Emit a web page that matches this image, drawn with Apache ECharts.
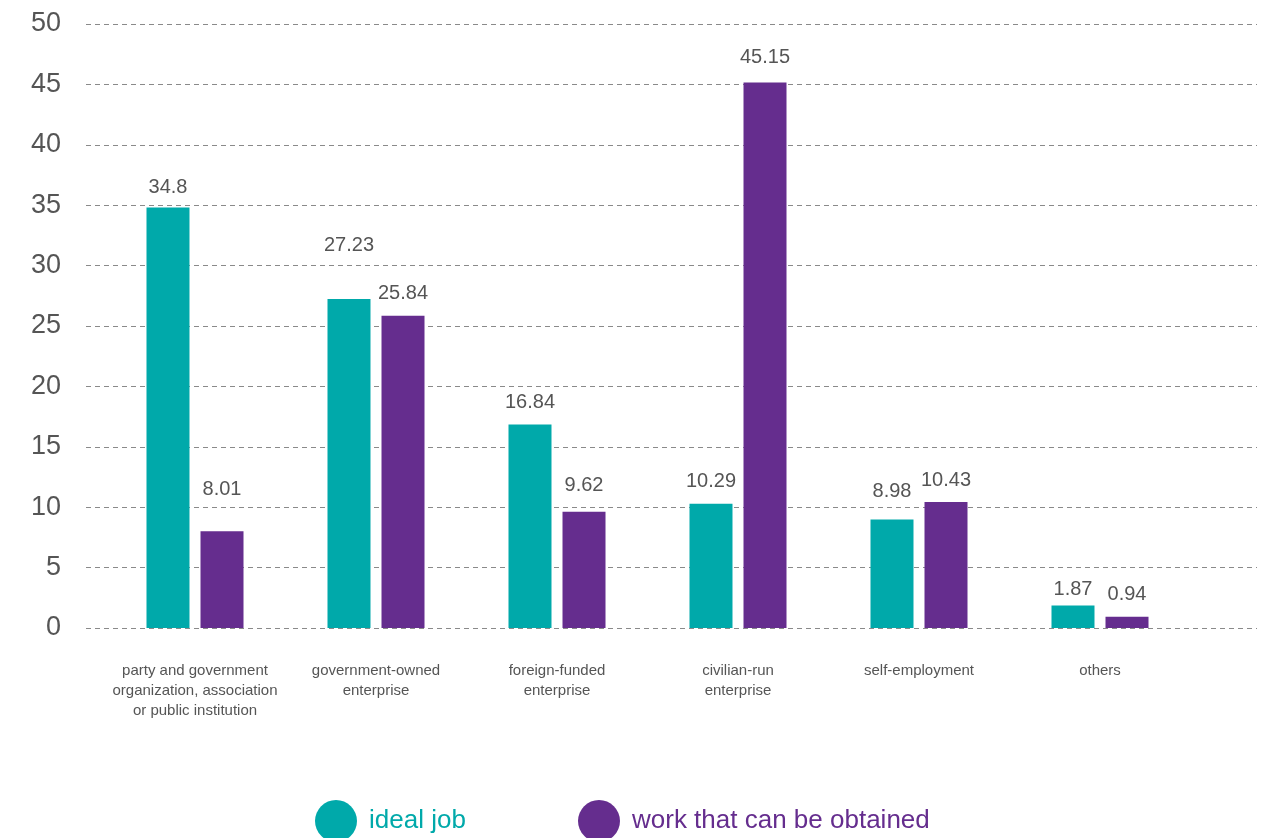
<!DOCTYPE html>
<html>
<head>
<meta charset="utf-8">
<script src="https://cdn.jsdelivr.net/npm/echarts@6/dist/echarts.min.js"></script>
<style>
html,body{margin:0;padding:0;background:#fff;}
#chart{width:1275px;height:838px;}
</style>
</head>
<body>
<div id="chart"></div>
<script>
var categories = [
  "party and government\norganization, association\nor public institution",
  "government-owned\nenterprise",
  "foreign-funded\nenterprise",
  "civilian-run\nenterprise",
  "self-employment",
  "others"
];
var seriesNames = ["ideal job", "work that can be obtained"];
var idealJob = [34.8, 27.23, 16.84, 10.29, 8.98, 1.87];
var workObtained = [8.01, 25.84, 9.62, 45.15, 10.43, 0.94];
var yTicks = [0, 5, 10, 15, 20, 25, 30, 35, 40, 45, 50];

var TEAL = "#00A9AA";
var PURPLE = "#652D8E";
var FONT = "Liberation Sans, Arial, Helvetica, sans-serif";

// extra label distances to mimic the reference label placement
var idealLabelExtra = {1: 32, 4: 6, 0: -2, 5: -6};
var workLabelExtra = {0: 20, 2: 4, 3: 3};

function mkData(vals, extra) {
  return vals.map(function (v, i) {
    var d = {value: v};
    if (extra[i] !== undefined) {
      d.label = {distance: 12 + extra[i]};
    }
    return d;
  });
}

var chart = echarts.init(document.getElementById("chart"), null, {renderer: "canvas"});
var option = {
  animation: false,
  backgroundColor: "#fff",
  textStyle: {fontFamily: FONT},
  grid: [
    {left: 86, right: 18, top: 24, bottom: 210},
    {left: 104.5, right: 84.5, top: 24, bottom: 210}
  ],
  xAxis: [
    {gridIndex: 0, type: "category", data: [""], show: false},
    {
      gridIndex: 1, type: "category", data: categories,
      axisLine: {show: false}, axisTick: {show: false},
      axisLabel: {color: "#555", fontSize: 15, lineHeight: 20, margin: 33, fontFamily: FONT, interval: 0}
    }
  ],
  yAxis: [
    {
      gridIndex: 0, type: "value", min: yTicks[0], max: yTicks[yTicks.length - 1], interval: 5,
      axisLine: {show: false}, axisTick: {show: false},
      axisLabel: {color: "#555", fontSize: 27, margin: 25, fontFamily: FONT},
      splitLine: {show: true, lineStyle: {color: "#8a8a8a", width: 1, type: [5, 4]}}
    },
    {
      gridIndex: 1, type: "value", min: yTicks[0], max: yTicks[yTicks.length - 1], interval: 5,
      show: false, splitLine: {show: false}
    }
  ],
  legend: [
    {
      data: [{name: seriesNames[0], textStyle: {color: TEAL}}],
      left: 310, top: 795, itemWidth: 42, itemHeight: 42, icon: "circle",
      textStyle: {fontSize: 26, fontFamily: FONT, padding: [16, 0, 0, 7]}
    },
    {
      data: [{name: seriesNames[1], textStyle: {color: PURPLE}}],
      left: 573, top: 795, itemWidth: 42, itemHeight: 42, icon: "circle",
      textStyle: {fontSize: 26, fontFamily: FONT, padding: [16, 0, 0, 7]}
    }
  ],
  series: [
    {
      name: seriesNames[0], type: "bar", xAxisIndex: 1, yAxisIndex: 1,
      data: mkData(idealJob, idealLabelExtra),
      barWidth: 43, barGap: "25.6%",
      itemStyle: {color: TEAL},
      label: {show: true, position: "top", distance: 12, color: "#555", fontSize: 20, fontFamily: FONT}
    },
    {
      name: seriesNames[1], type: "bar", xAxisIndex: 1, yAxisIndex: 1,
      data: mkData(workObtained, workLabelExtra),
      barWidth: 43, barGap: "25.6%",
      itemStyle: {color: PURPLE},
      label: {show: true, position: "top", distance: 12, color: "#555", fontSize: 20, fontFamily: FONT}
    }
  ]
};
chart.setOption(option);
</script>
</body>
</html>
